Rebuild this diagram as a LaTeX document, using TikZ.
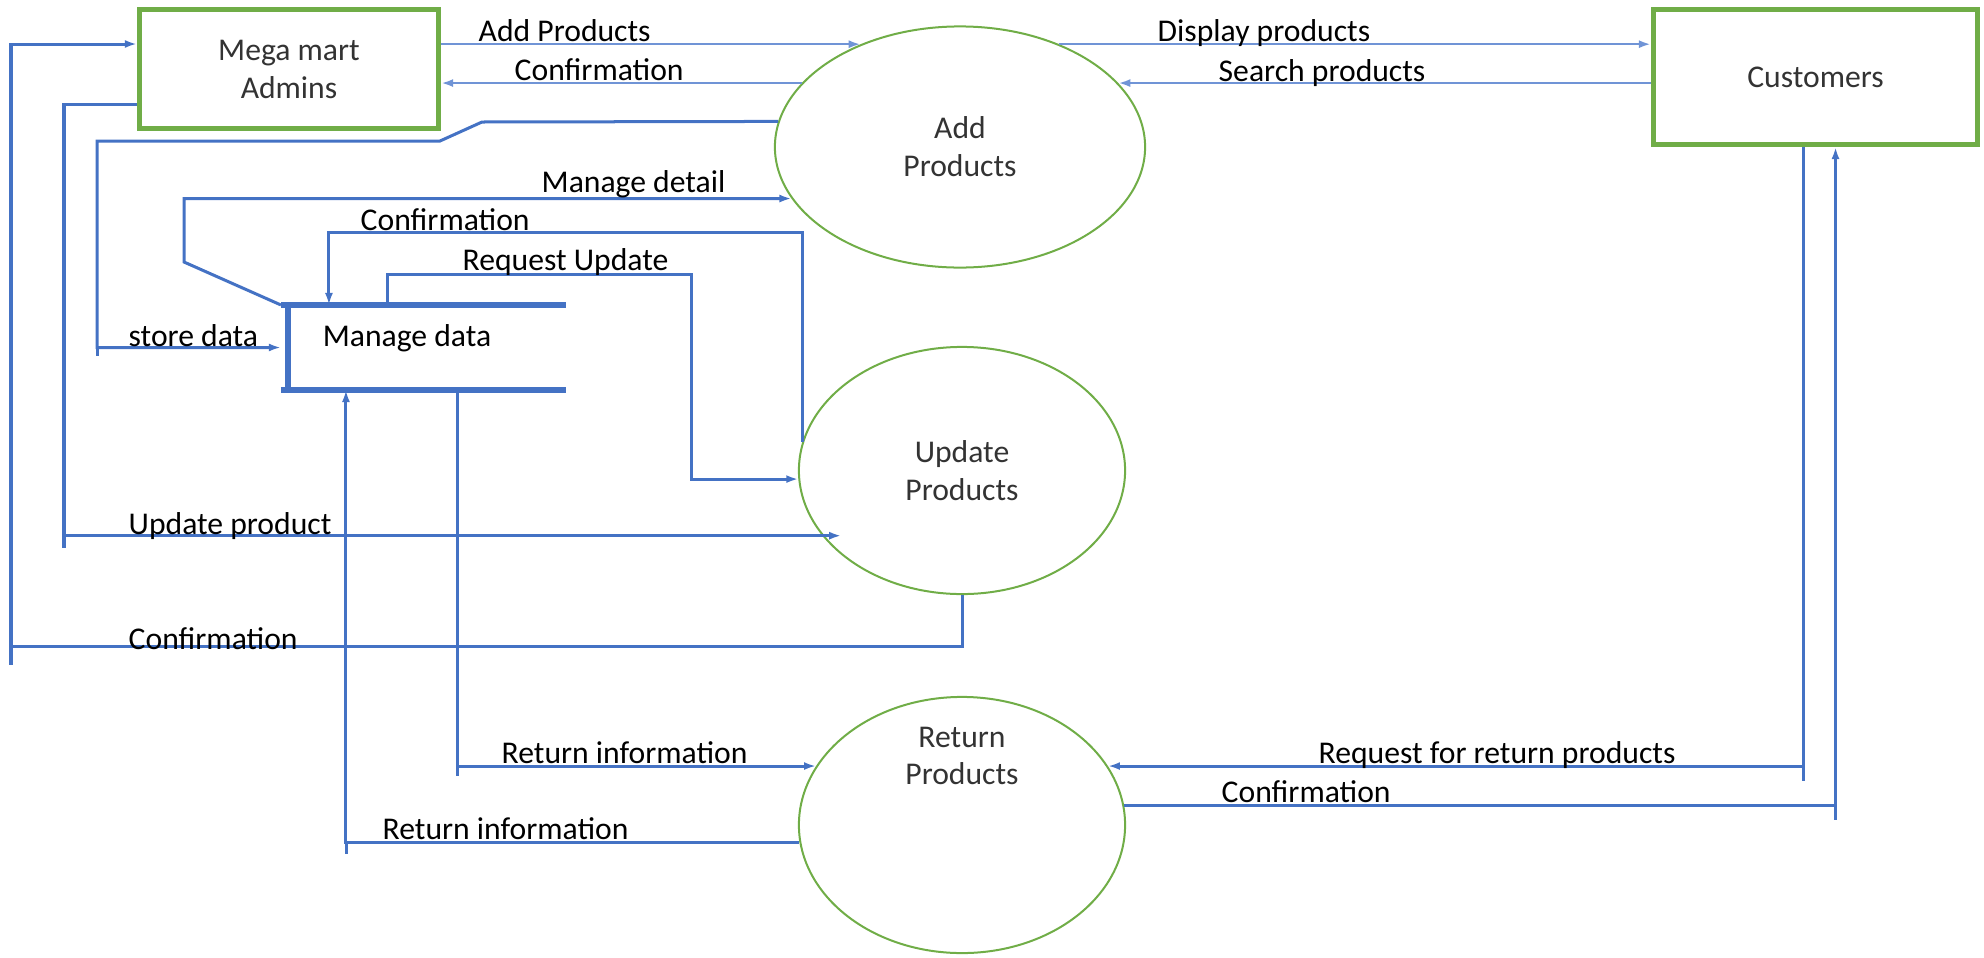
\documentclass[tikz,border=0pt]{standalone}
\usepackage{fontspec}
\setmainfont{Carlito}
\usetikzlibrary{shapes.geometric,arrows.meta,positioning}
\definecolor{penBlue}{HTML}{4472C4}
\definecolor{penBlueLt}{HTML}{7094D6}
\definecolor{penGreen}{HTML}{70AD47}
\colorlet{nodeText}{black!80}
\tikzset{>={Latex[length=1.2mm,width=0.8mm]}}
\tikzset{
  every node/.style={font=\fontsize{9}{10.8}\selectfont},
  entity/.style={draw=penGreen,line width=0.05cm,text=nodeText,align=center},
  proc/.style={ellipse,draw=penGreen,line width=0.02cm,text=nodeText,align=center},
  flow/.style={->,penBlue,line width=0.03cm},
  flowlt/.style={->,penBlueLt,line width=0.025cm},
  lbl/.style={anchor=base west,inner sep=0pt},
}

\begin{document}
\begin{tikzpicture}[x=0.01cm,y=-0.01cm]
  \useasboundingbox (0,0) rectangle (1984,957);
  % outside entities
  \node[entity,minimum width=2.99cm,minimum height=1.19cm] (adm) at (289,69) {Mega mart\\Admins};
  \node[entity,minimum width=3.24cm,minimum height=1.35cm] (cus) at (1815.5,77) {Customers};
  % processes
  \node[proc,minimum width=3.70cm,minimum height=2.41cm] (add) at (960,147) {Add\\Products};
  \node[proc,minimum width=3.26cm,minimum height=2.47cm] (upd) at (962,470.5) {Update\\Products};
  \node[proc,minimum width=3.26cm,minimum height=2.56cm,
        label={[align=center,text=nodeText,yshift=0.69cm]center:Return\\Products}] (ret) at (962,825) {};
  % data store
  \node[minimum width=2.85cm,minimum height=0.85cm,inner sep=0pt,outer sep=0pt,
        label={[xshift=-0.165cm,yshift=0.095cm]center:Manage data}] (mng) at (423.5,347.5) {};
  \draw[penBlue,line width=0.06cm] (mng.north west) -- (mng.north east);
  \draw[penBlue,line width=0.06cm] (mng.south west) -- (mng.south east);
  \draw[penBlue,line width=0.06cm] ([xshift=0.07cm]mng.north west) -- ([xshift=0.07cm]mng.south west);
  \coordinate (cf) at ([xshift=0.48cm]mng.north west);
  \coordinate (rq) at ([xshift=1.07cm]mng.north west);
  \coordinate (ri) at ([xshift=1.76cm]mng.south west);
  \coordinate (ro) at ([xshift=0.65cm]mng.south west);
  \coordinate (rr) at ([xshift=-0.125cm]cus.south);
  \coordinate (rc) at ([xshift=0.2cm]cus.south);

  % flows
  \draw[flowlt] (adm.east |- add.134) -- (add.134);
  \draw[flowlt] (add.158) -- (adm.east |- add.158);
  \draw[flowlt] (add.46) -- (cus.west |- add.46);
  \draw[flowlt] (cus.west |- add.22) -- (add.22);
  \draw[flow] (add.172) -- (482,122) -- (440,141) -| (97,0 |- mng.west) -- (mng.west);
  \draw[flow] (mng.north west) -- (184,262) |- (add.197);
  \draw[flow] (upd.170) |- (cf |- 0,232) -- (cf);
  \draw[flow] (rq) |- (691,274) |- (upd.183);
  \draw[flow,shorten >=-0.19cm] (adm.west |- 0,104) -| (64,0 |- upd.205) -- (upd.205);
  \draw[flow] (upd.south) |- (11,646) |- (adm.west |- 0,44);
  \draw[flow] (ri) |- (ret.158);
  \draw[flow] (ret.186) -| (ro);
  \draw[flow] (rr) |- (ret.22);
  \draw[flow] (ret.7) -| (rc);
  % line ends running past the corners
  \foreach \x/\y/\d in {11/646/19, 64/535/13, 97/347.5/8, 457/766/10, 346/842/12, 1803/766/15, 1835.5/805/15}
    \draw[penBlue,line width=0.03cm] (\x,\y) -- ++(0,\d);

  % flow labels
  \node[lbl] (l1) at (478,41) {Add Products};
  \node[lbl] (l2) at (514,80) {Confirmation};
  \node[lbl] (l3) at (1157,41) {Display products};
  \node[lbl] (l4) at (1218,81) {Search products};
  \node[lbl] (l5) at (541,192) {Manage detail};
  \node[lbl] (l6) at (360,230) {Confirmation};
  \node[lbl] (l7) at (462,270) {Request Update};
  \node[lbl] (l8) at (128,346) {store data};
  \node[lbl] (l9) at (128,534) {Update product};
  \node[lbl] (l10) at (128,649) {Confirmation};
  \node[lbl] (l11) at (501,763) {Return information};
  \node[lbl] (l12) at (382,839) {Return information};
  \node[lbl] (l13) at (1318,763) {Request for return products};
  \node[lbl] (l14) at (1221,802) {Confirmation};
\end{tikzpicture}
\end{document}
